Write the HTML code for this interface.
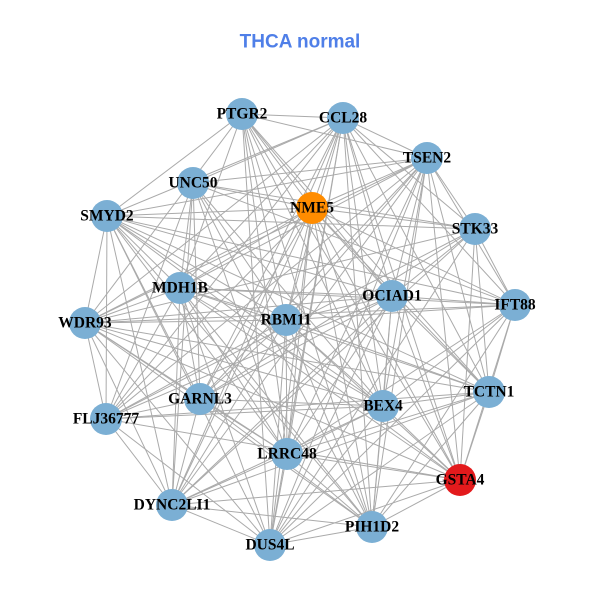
<!DOCTYPE html>
<html><head><meta charset="utf-8"><style>
html,body{margin:0;padding:0;background:#fff;}
svg{display:block}
.l{font-family:"Liberation Serif",serif;font-weight:bold;font-size:15.5px;fill:#000;text-anchor:middle;dominant-baseline:central}
</style></head><body>
<svg id="s" width="600" height="600" viewBox="0 0 600 600">
<rect width="600" height="600" fill="#fff"/>
<text x="300" y="42" text-anchor="middle" dominant-baseline="central" font-family="Liberation Sans, sans-serif" font-weight="bold" font-size="19" fill="#4f7fe8">THCA normal</text>
<g id="e" stroke="#aaaaaa" stroke-width="1"></g>
<g id="n"></g>
<g>
<text class="l" x="242" y="114">PTGR2</text>
<text class="l" x="343" y="118">CCL28</text>
<text class="l" x="427" y="158">TSEN2</text>
<text class="l" x="193" y="183">UNC50</text>
<text class="l" x="312" y="208">NME5</text>
<text class="l" x="107" y="216">SMYD2</text>
<text class="l" x="475" y="229">STK33</text>
<text class="l" x="180" y="288">MDH1B</text>
<text class="l" x="392" y="296">OCIAD1</text>
<text class="l" x="515" y="305">IFT88</text>
<text class="l" x="286" y="320">RBM11</text>
<text class="l" x="85" y="323">WDR93</text>
<text class="l" x="200" y="399">GARNL3</text>
<text class="l" x="383" y="406">BEX4</text>
<text class="l" x="489" y="392">TCTN1</text>
<text class="l" x="106" y="419">FLJ36777</text>
<text class="l" x="287" y="454">LRRC48</text>
<text class="l" x="460" y="480">GSTA4</text>
<text class="l" x="172" y="505">DYNC2LI1</text>
<text class="l" x="372" y="527">PIH1D2</text>
<text class="l" x="270" y="545">DUS4L</text>
</g>
</svg>
<script>
var P=[[242,114],[343,118],[427,158],[193,183],[312,208],[107,216],[475,229],[180,288],[392,296],[515,305],[286,320],[85,323],[200,399],[383,406],[489,392],[106,419],[287,454],[460,480],[172,505],[372,527],[270,545]];
var ns="http://www.w3.org/2000/svg",e=document.getElementById("e"),n=document.getElementById("n");
for(var i=0;i<P.length;i++)for(var j=i+1;j<P.length;j++){
 if((i*7+j*3)%9==0)continue;
 var l=document.createElementNS(ns,"line");
 l.setAttribute("x1",P[i][0]);l.setAttribute("y1",P[i][1]);l.setAttribute("x2",P[j][0]);l.setAttribute("y2",P[j][1]);e.appendChild(l);}
for(var i=0;i<P.length;i++){var c=document.createElementNS(ns,"circle");
 c.setAttribute("cx",P[i][0]);c.setAttribute("cy",P[i][1]);c.setAttribute("r",16);
 c.setAttribute("fill",i==4?"#ff8c00":i==17?"#e31a1c":"#7bafd4");n.appendChild(c);}
</script>
</body></html>
